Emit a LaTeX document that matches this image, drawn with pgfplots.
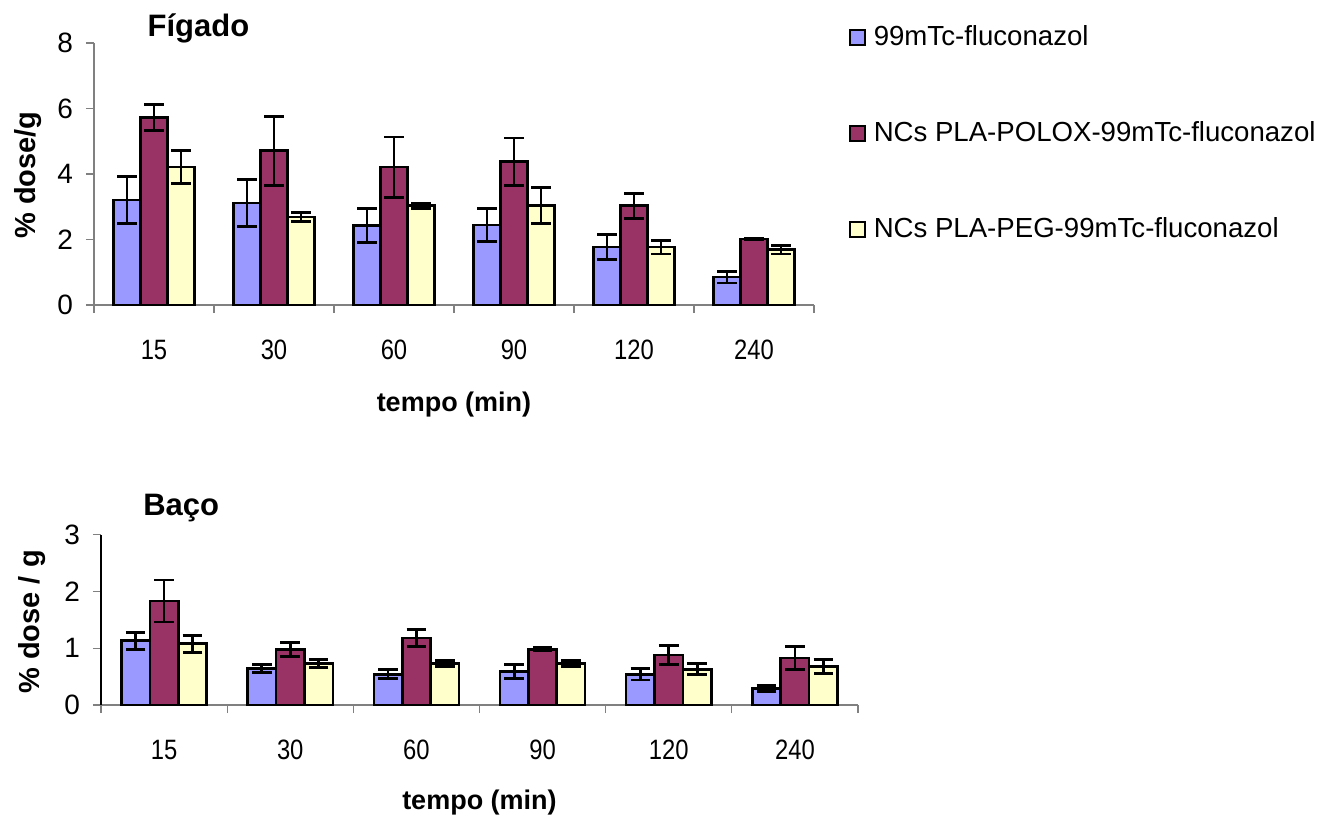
\documentclass[border=0pt]{standalone}
\usepackage{fontspec}
\setmainfont{Liberation Sans}
\newfontfamily\narrowfont[FakeStretch=0.85]{Liberation Sans}
\usepackage{pgfplots}
\pgfplotsset{compat=1.18}
\definecolor{cblue}{HTML}{9999FF}
\definecolor{cpurple}{HTML}{993366}
\definecolor{cyellow}{HTML}{FFFFCC}
\newcommand{\tickfont}{\fontsize{14}{16}\selectfont}
\newcommand{\legfont}{\fontsize{13.8}{16}\selectfont}
\newcommand{\labfont}{\fontsize{14.5}{16}\selectfont\bfseries}
\newcommand{\titfont}{\fontsize{15.5}{17}\selectfont\bfseries}
\pgfplotsset{
  mybars/.style={
    ybar=0pt, bar width=0.225,
    scale only axis,
    xmin=-0.5, xmax=5.5, ymin=0,
    axis x line=bottom, axis y line=left,
    axis line style={-, gray, line width=0.6pt},
    xtick={0,...,5},
    xticklabels={15,30,60,90,120,240},
    xtick style={draw=none},
    extra x ticks={-0.5,0.5,...,5.5},
    extra x tick labels={},
    extra x tick style={xtick style={draw=gray, line width=0.6pt}},
    tick align=outside, major tick length=4pt,
    ytick style={draw=gray, line width=0.6pt},
    /pgf/number format/assume math mode=true,
    yticklabel style={font=\tickfont, xshift=-3pt},
    xticklabel style={font=\tickfont\narrowfont, yshift=-10pt},
    every axis title shift=0pt,
    every axis plot/.append style={draw=black, line width=1.3pt,
      error bars/y dir=both, error bars/y explicit,
      error bars/error bar style={line width=1.4pt, black},
      error bars/error mark options={rotate=90, mark size=4.9pt, line width=1.4pt, black}},
  },
}
\begin{document}
\begin{tikzpicture}
% ---------- Figado ----------
\begin{axis}[mybars,
  at={(47pt,258pt)}, anchor=south west,
  width=360pt, height=131pt,
  ymax=8, ytick={0,2,4,6,8},
  title={\titfont Fígado},
  title style={at={(rel axis cs:0.145,1.055)}, anchor=center},
  ylabel={\labfont \% dose/g},
  ylabel style={at={(rel axis cs:-0.0917,0.496)}, anchor=center, rotate=0},
  xlabel={\fontsize{13.5}{15}\selectfont\bfseries tempo (min)},
  xlabel style={at={(rel axis cs:0.5,-0.378)}, anchor=center},
  legend style={draw=none, fill=none, inner sep=0pt, at={(rel axis cs:1.0486,1.09)}, anchor=north west,
    font=\legfont, row sep=30.5pt, column sep=0.8pt, cells={anchor=west}, nodes={inner sep=3pt}},
  legend cell align=left,
]
\addplot[fill=cblue, forget plot, bar shift=-0.225] coordinates {(0,3.21) +- (0,0.72) (1,3.11) +- (0,0.72) (2,2.43) +- (0,0.51) (3,2.44) +- (0,0.51) (4,1.77) +- (0,0.38) (5,0.85) +- (0,0.18)};
\addplot[fill=cpurple, forget plot, bar shift=0] coordinates {(0,5.73) +- (0,0.40) (1,4.71) +- (0,1.05) (2,4.21) +- (0,0.92) (3,4.38) +- (0,0.72) (4,3.03) +- (0,0.38) (5,2.02) +- (0,0.01)};
\addplot[fill=cyellow, forget plot, bar shift=0.225] coordinates {(0,4.21) +- (0,0.51) (1,2.69) +- (0,0.14) (2,3.03) +- (0,0.08) (3,3.03) +- (0,0.55) (4,1.77) +- (0,0.21) (5,1.69) +- (0,0.13)};
\addlegendimage{legend image code/.code={\draw[fill=cblue, draw=black, line width=0.9pt] (0pt,-3.75pt) rectangle (7.5pt,3.75pt);}}
\addlegendentry{99mTc-fluconazol}
\addlegendimage{legend image code/.code={\draw[fill=cpurple, draw=black, line width=0.9pt] (0pt,-3.75pt) rectangle (7.5pt,3.75pt);}}
\addlegendentry{NCs PLA-POLOX-99mTc-fluconazol}
\addlegendimage{legend image code/.code={\draw[fill=cyellow, draw=black, line width=0.9pt] (0pt,-3.75pt) rectangle (7.5pt,3.75pt);}}
\addlegendentry{NCs PLA-PEG-99mTc-fluconazol}
\end{axis}
% ---------- Baco ----------
\begin{axis}[mybars,
  at={(50.5pt,58pt)}, anchor=south west,
  width=378.5pt, height=85.25pt,
  ymax=3, ytick={0,1,2,3},
  y axis line style={black},
  title={\titfont Baço},
  title style={at={(rel axis cs:0.106,1.155)}, anchor=center},
  ylabel={\labfont \% dose / g},
  ylabel style={at={(rel axis cs:-0.0911,0.487)}, anchor=center, rotate=0},
  xlabel={\fontsize{13.5}{15}\selectfont\bfseries tempo (min)},
  xlabel style={at={(rel axis cs:0.5,-0.569)}, anchor=center},
]
\addplot[fill=cblue] coordinates {(0,1.13) +- (0,0.15) (1,0.64) +- (0,0.07) (2,0.54) +- (0,0.08) (3,0.59) +- (0,0.12) (4,0.54) +- (0,0.10) (5,0.29) +- (0,0.05)};
\addplot[fill=cpurple] coordinates {(0,1.83) +- (0,0.37) (1,0.98) +- (0,0.12) (2,1.18) +- (0,0.15) (3,0.98) +- (0,0.03) (4,0.88) +- (0,0.17) (5,0.83) +- (0,0.20)};
\addplot[fill=cyellow] coordinates {(0,1.08) +- (0,0.15) (1,0.73) +- (0,0.07) (2,0.73) +- (0,0.05) (3,0.73) +- (0,0.05) (4,0.63) +- (0,0.10) (5,0.68) +- (0,0.12)};
\end{axis}
\pgfresetboundingbox
\path[use as bounding box] (0,0) rectangle (659pt,410.5pt);
\end{tikzpicture}
\end{document}
